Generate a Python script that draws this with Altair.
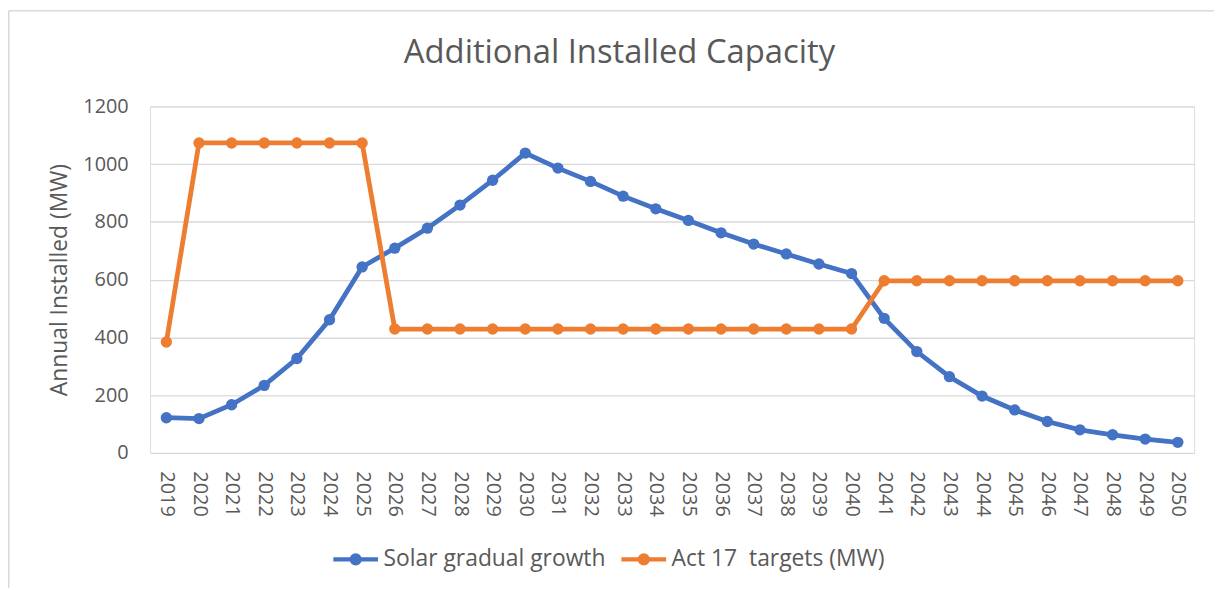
import altair as alt
import pandas as pd

years = [2019, 2020, 2021, 2022, 2023, 2024, 2025, 2026, 2027, 2028, 2029, 2030,
         2031, 2032, 2033, 2034, 2035, 2036, 2037, 2038, 2039, 2040, 2041, 2042,
         2043, 2044, 2045, 2046, 2047, 2048, 2049, 2050]
solar = [122, 119, 167, 234, 327, 461, 644, 709, 778, 858, 944, 1038,
         986, 940, 889, 845, 805, 762, 723, 689, 654, 621, 466, 351,
         264, 197, 149, 109, 80, 63, 48, 37]
act17 = [384, 1073, 1073, 1073, 1073, 1073, 1073, 429, 429, 429, 429, 429,
         429, 429, 429, 429, 429, 429, 429, 429, 429, 429, 596, 596,
         596, 596, 596, 596, 596, 596, 596, 596]
series_names = ["Solar gradual growth", "Act 17\u00a0 targets (MW)"]
series_colors = ["#4472C4", "#ED7D31"]
y_ticks = [0, 200, 400, 600, 800, 1000, 1200]

df = pd.DataFrame({
    "year": years + years,
    "value": solar + act17,
    "series": [series_names[0]] * len(years) + [series_names[1]] * len(years),
})

W, H = 1051, 349
FONT = "Open Sans"
TXT = "#595959"
GRID = "#D9D9D9"

legend_symbol = "M-1,0L1,0M-0.17,0A0.17,0.17 0 1,0 0.17,0A0.17,0.17 0 1,0 -0.17,0Z"

x_enc = alt.X("year:O", scale=alt.Scale(type="point", padding=0.5),
              axis=alt.Axis(title=None, labelAngle=90, labelAlign="left", labelBaseline="middle",
                            labelFont=FONT, labelFontSize=20, labelColor=TXT, labelPadding=18,
                            ticks=False, tickSize=0, domain=False, grid=False))
y_enc = alt.Y("value:Q", scale=alt.Scale(domain=[0, 1200]),
              axis=alt.Axis(values=y_ticks, format="d", title="Annual Installed (MW)",
                            titleFont=FONT, titleFontSize=23, titleColor=TXT, titleFontWeight="normal",
                            titleAngle=270, titleX=-84, titleY=H / 2, titleAlign="center",
                            titleBaseline="alphabetic",
                            labelFont=FONT, labelFontSize=20, labelColor=TXT, labelPadding=22,
                            ticks=False, tickSize=0, domain=False,
                            gridColor=GRID, gridWidth=1.3))
color_enc = alt.Color("series:N",
                      scale=alt.Scale(domain=series_names, range=series_colors),
                      legend=alt.Legend(title=None, orient="none", legendX=182, legendY=431,
                                        direction="horizontal", symbolType=legend_symbol,
                                        symbolSize=2025, symbolStrokeWidth=4.5,
                                        labelFont=FONT, labelFontSize=23, labelColor=TXT,
                                        labelLimit=0, labelOffset=3, columnPadding=6, padding=0))

base = alt.Chart(df)
lines = base.mark_line(strokeWidth=4.8).encode(x=x_enc, y=y_enc, color=color_enc)
points = base.mark_circle(size=130, opacity=1).encode(x=x_enc, y=y_enc, color=color_enc)

frame_df = pd.DataFrame({"k": [0]})
left_edge = alt.Chart(frame_df).mark_rule(color=GRID, strokeWidth=1.5).encode(
    x=alt.value(-142.25), y=alt.value(-96.25), y2=alt.value(H + 136))
top_edge = alt.Chart(frame_df).mark_rule(color=GRID, strokeWidth=1.5).encode(
    x=alt.value(-142.25), x2=alt.value(W + 20), y=alt.value(-96.25))

chart = alt.layer(left_edge, top_edge, lines, points).properties(
    width=W, height=H,
    title=alt.TitleParams("Additional Installed Capacity", font=FONT, fontSize=33,
                          color=TXT, fontWeight="normal", anchor="middle", dx=-53,
                          baseline="alphabetic", offset=0, dy=86),
    autosize=alt.AutoSizeParams(type="none"),
    padding={"left": 143, "top": 97, "right": 20, "bottom": 136},
).configure_view(strokeWidth=0).configure(background="white")

chart.save("out.html", embed_options={"renderer": "svg", "actions": False})
